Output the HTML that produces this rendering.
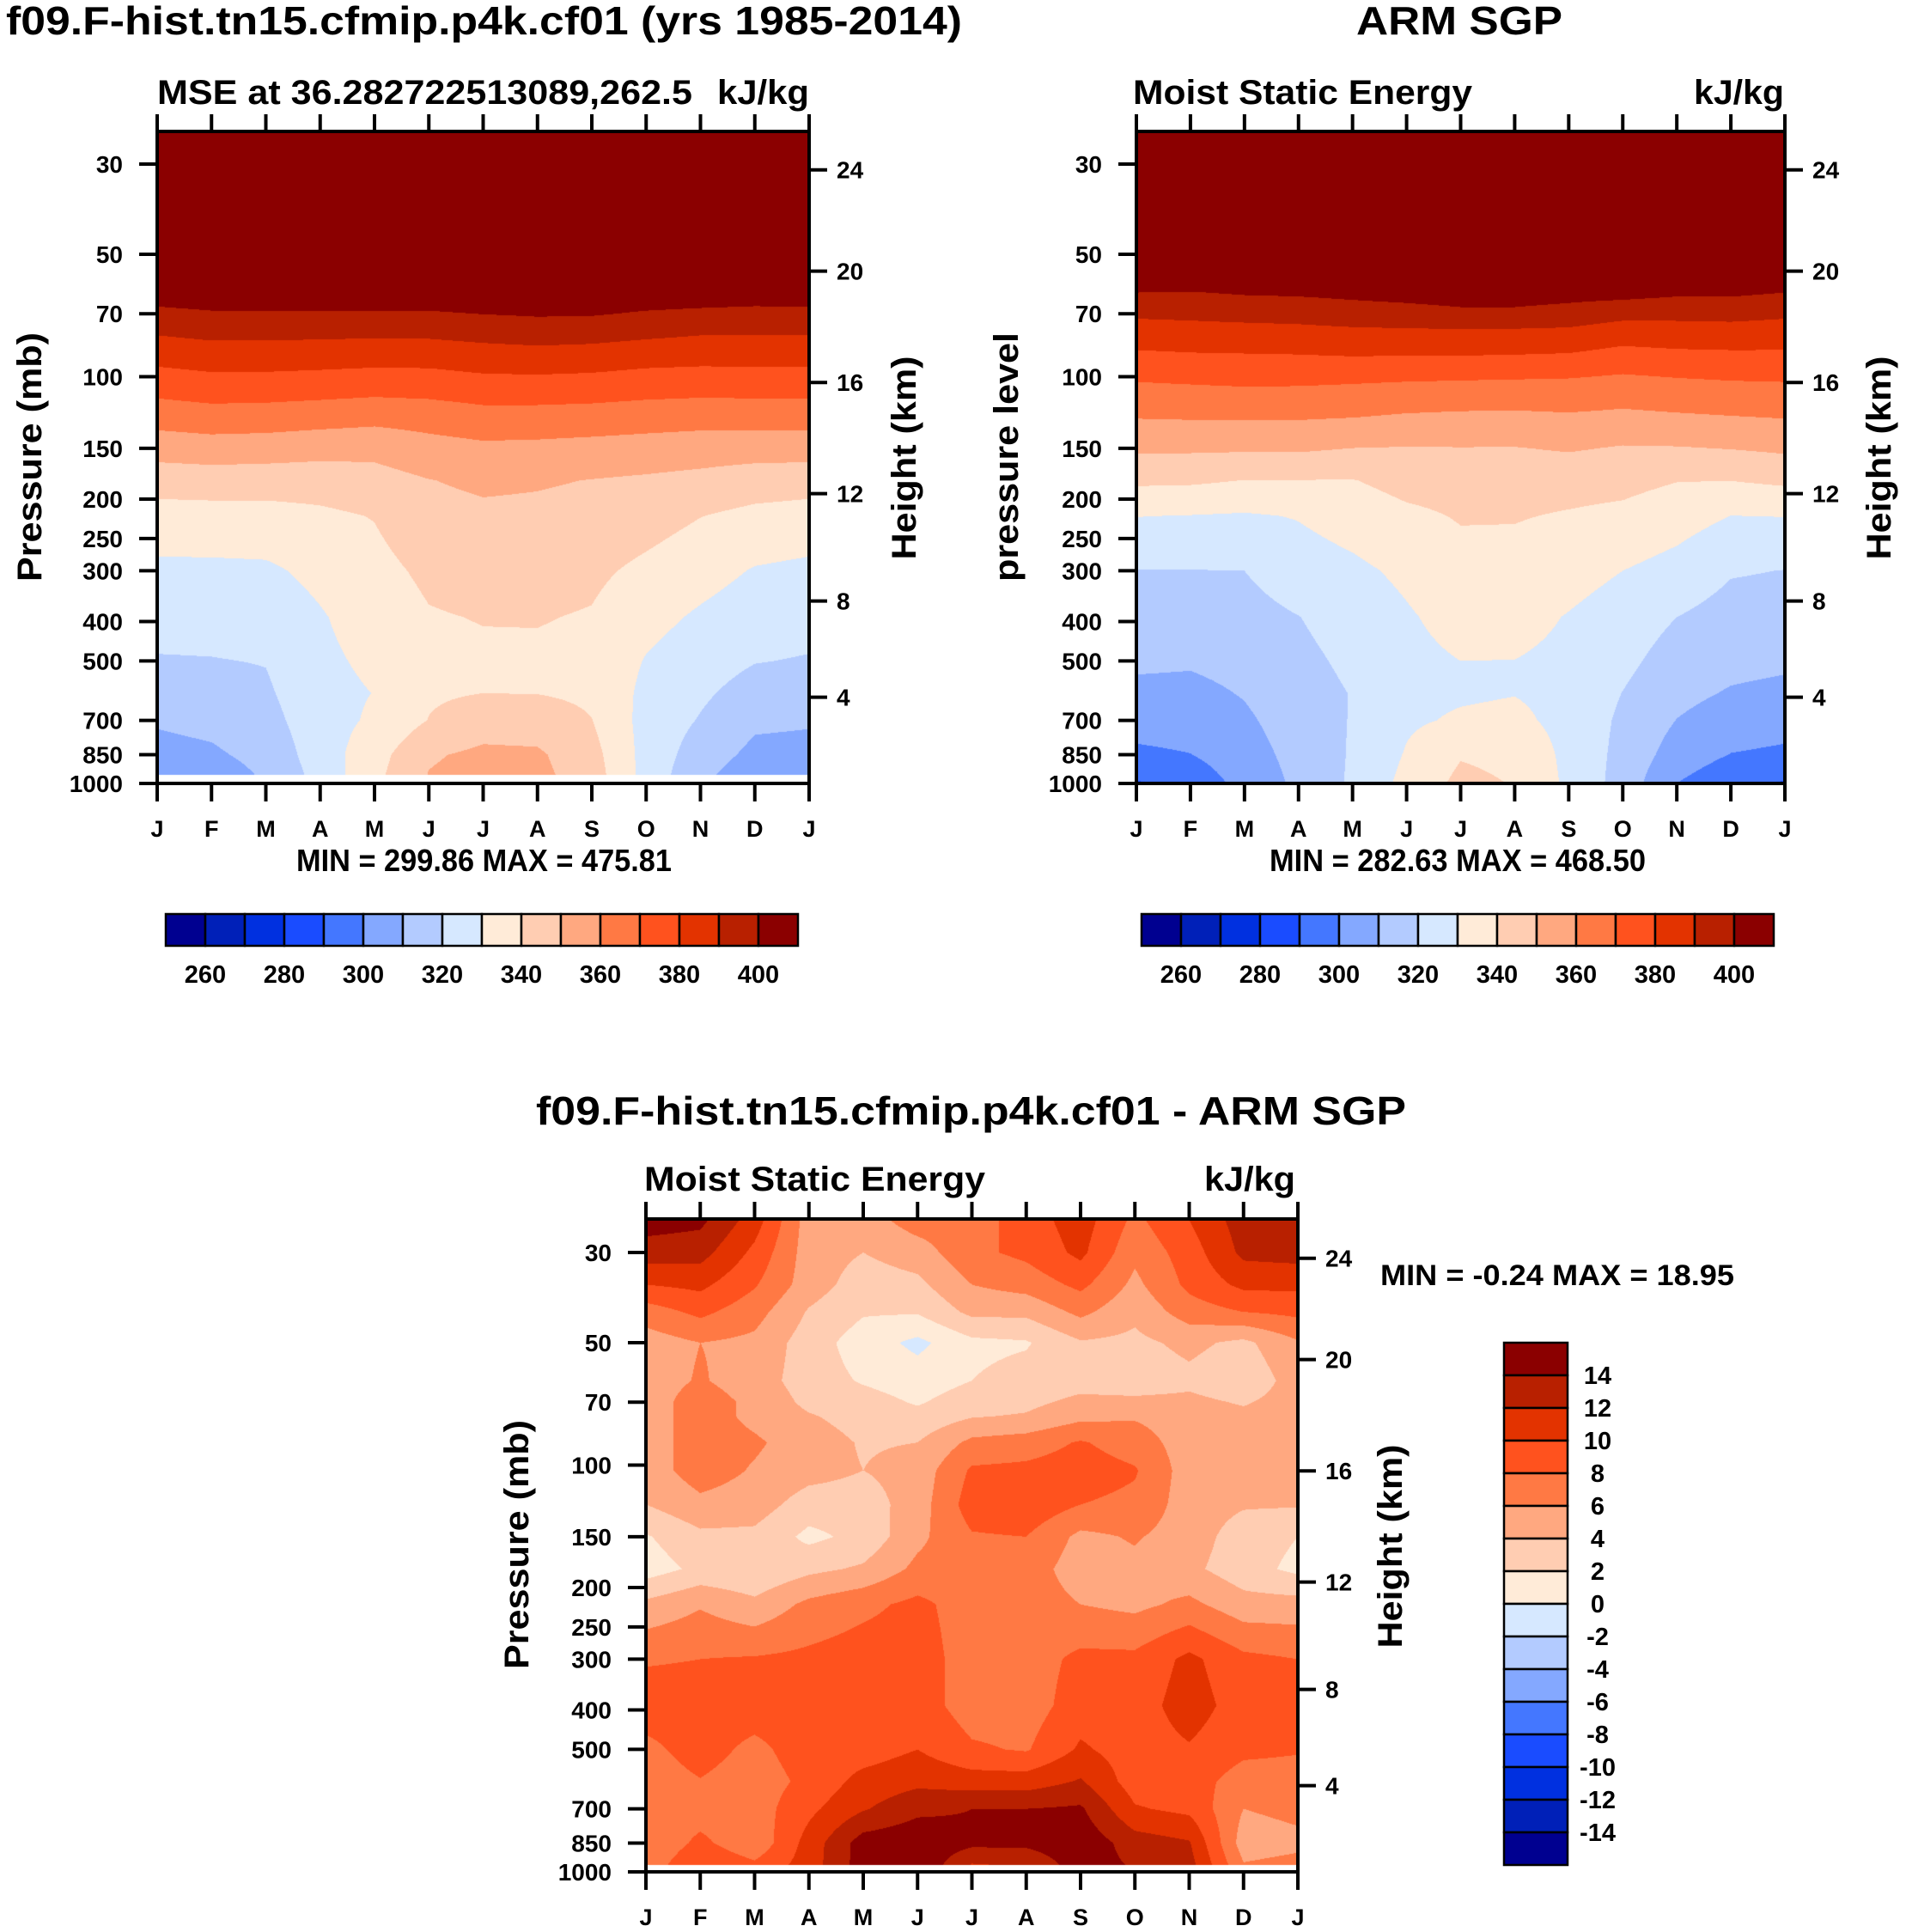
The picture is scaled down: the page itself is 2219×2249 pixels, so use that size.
<!DOCTYPE html>
<html><head><meta charset="utf-8">
<style>
html,body{margin:0;padding:0;background:#fff;}
#wrap{position:relative;width:2219px;height:2249px;overflow:hidden;background:#fff;}
canvas{position:absolute;}
svg{position:absolute;left:0;top:0;}
text{font-family:"Liberation Sans",Arial,sans-serif;font-weight:bold;fill:#000;}
</style></head>
<body>
<div id="wrap">
<canvas id="c1"></canvas>
<canvas id="c2"></canvas>
<canvas id="c3"></canvas>
<svg id="ov" width="2219" height="2249" viewBox="0 0 2219 2249">
<text x="7" y="40" font-size="46" textLength="1113" lengthAdjust="spacingAndGlyphs">f09.F-hist.tn15.cfmip.p4k.cf01 (yrs 1985-2014)</text>
<text x="1579" y="40" font-size="46" textLength="240" lengthAdjust="spacingAndGlyphs">ARM SGP</text>
<text x="183" y="121" font-size="40" textLength="623" lengthAdjust="spacingAndGlyphs">MSE at 36.282722513089,262.5</text>
<text x="835" y="121" font-size="40" textLength="107" lengthAdjust="spacingAndGlyphs">kJ/kg</text>
<text x="1319" y="121" font-size="40" textLength="395" lengthAdjust="spacingAndGlyphs">Moist Static Energy</text>
<text x="1972" y="121" font-size="40" textLength="105" lengthAdjust="spacingAndGlyphs">kJ/kg</text>
<text x="345" y="1014" font-size="36" textLength="437" lengthAdjust="spacingAndGlyphs">MIN = 299.86 MAX = 475.81</text>
<text x="1478" y="1014" font-size="36" textLength="438" lengthAdjust="spacingAndGlyphs">MIN = 282.63 MAX = 468.50</text>
<text x="624" y="1309" font-size="46" textLength="1013" lengthAdjust="spacingAndGlyphs">f09.F-hist.tn15.cfmip.p4k.cf01 - ARM SGP</text>
<text x="750" y="1386" font-size="40" textLength="397" lengthAdjust="spacingAndGlyphs">Moist Static Energy</text>
<text x="1402" y="1386" font-size="40" textLength="106" lengthAdjust="spacingAndGlyphs">kJ/kg</text>
<text x="1607" y="1496" font-size="34" textLength="412" lengthAdjust="spacingAndGlyphs">MIN =  -0.24 MAX =  18.95</text>
<text x="34" y="546" font-size="40" text-anchor="middle" textLength="290" lengthAdjust="spacingAndGlyphs" transform="rotate(-90,34,532)">Pressure (mb)</text>
<text x="1052" y="547" font-size="40" text-anchor="middle" textLength="237" lengthAdjust="spacingAndGlyphs" transform="rotate(-90,1052,533)">Height (km)</text>
<text x="1171" y="546" font-size="40" text-anchor="middle" textLength="290" lengthAdjust="spacingAndGlyphs" transform="rotate(-90,1171,532)">pressure level</text>
<text x="2187" y="547" font-size="40" text-anchor="middle" textLength="237" lengthAdjust="spacingAndGlyphs" transform="rotate(-90,2187,533)">Height (km)</text>
<text x="601" y="1812" font-size="40" text-anchor="middle" textLength="290" lengthAdjust="spacingAndGlyphs" transform="rotate(-90,601,1798)">Pressure (mb)</text>
<text x="1618" y="1814" font-size="40" text-anchor="middle" textLength="237" lengthAdjust="spacingAndGlyphs" transform="rotate(-90,1618,1800)">Height (km)</text>
<g id="dyn"></g>
</svg>
</div>
<script>
const months=['J','F','M','A','M','J','J','A','S','O','N','D','J'];
const levels=[25,30,36,42,50,62,70,76,88,103,125,150,180,220,300,390,500,600,700,850,1000];
const modelMSE=[
[470,470,470,470,470,470,470,470,470,470,470,470,470],
[465,465,465,465,465,465,465,465,465,465,465,465,465],
[455,455,455,455,455,455,455,455,455,455,455,455,455],
[445,445,445,445,445,445,445,445,445,445,445,445,445],
[430,430,430,430,430,430,430,430,430,430,430,430,430],
[405,406,406,406,406,406,407,407.5,407,406,405.5,405,405],
[397.5,399,399,399.1,399,399,400.2,401,400.8,399,398,397.3,397.5],
[392.3,394,394,393.7,393.5,393.7,395,396.1,395.6,394,392.3,392,392.3],
[383.9,385.6,385.6,385.1,384.5,384.6,386.2,387,386.3,384.6,383.9,383.9,383.9],
[375.2,376.9,376.8,376.1,375.2,375.5,377.3,377.5,376.9,375.5,375,375.2,375.2],
[364.4,366,365.6,364.5,363.4,364.5,366.5,366.4,365.9,364.9,364.2,364.4,364.4],
[354.3,355.4,354.9,353.6,352.8,356.2,358,357.6,356.7,355.8,354.8,354.3,354.3],
[344.3,344.9,344.6,344.5,346.4,349.7,351.8,351,349.7,348.6,347.2,345,344.3],
[336,336.2,336.4,338.1,340.4,346.6,348,347.7,346.6,344.1,340.2,337.4,336],
[327.9,328,328.4,332.4,337.1,341.9,343.9,343.6,342,337.8,333.8,329.3,327.9],
[323.6,323.7,324.4,329.2,334.4,339.3,340.4,340.5,339.3,333.2,328.6,324.7,323.6],
[319.3,319.6,320.4,328,331.9,337.5,338.5,338.5,337.5,329.4,324.6,320.4,319.3],
[314.8,315.8,318.5,327,330.2,338.6,340,339.8,338.3,327.5,321.7,315.8,314.8],
[311,312.6,316.5,326,331.5,340.3,345.5,345,340.2,326.5,319.3,311.8,311],
[307,308.5,313,325,336,348.9,352,351.5,343.5,326.5,315,307.5,307],
[302.5,303.5,310.5,323,338,351,354,353,345.5,326.5,311,303,302.5]];
const obsMSE=[
[470,470,470,470,470,470,470,470,470,470,470,470,470],
[465,465,465,465,465,465,465,465,465,465,465,465,465],
[455,455,455,455,455,455,455,455,455,455,455,455,455],
[445,445,445,445,445,445,445,445,445,445,445,445,445],
[430,430,430,430,430,430,430,430,430,430,430,430,430],
[400.1,399.7,401,401.5,402.5,403.5,404.5,404.5,403.5,403.5,401.8,401.8,400.1],
[391.7,392.2,393.3,393.8,395.5,396.5,398,398,396.5,393.5,392.7,393,391.7],
[386.8,387.5,387.9,388.5,389.5,390,390.3,390.2,389.6,386.2,387.2,387.6,386.8],
[378.7,379.5,379.8,380.1,380.8,380.6,380.6,380.2,379.6,377.1,378.2,378.6,378.7],
[370,370.7,371.4,371.2,370.6,369.9,369.4,369,368.6,367.2,368.6,369.6,370],
[360.7,361.1,361.2,361.2,360.5,359.1,358.4,358.2,359,358,359,359.9,360.7],
[351.7,351.5,351.3,351.4,349.9,349.5,349.7,349.6,350.9,349.2,349.4,350.3,351.7],
[341.8,341.5,339.8,339.8,339.6,343.4,344,343.8,343.5,342.9,340.3,340.1,341.8],
[330.2,329.7,329,330.5,334,337.9,340.7,340.6,339.2,337.7,334.2,329.9,330.2],
[319.8,319.8,320,325.5,328,331.9,336.7,336.5,333.6,330,326.5,320.8,319.8],
[315.6,315.3,316.4,319.8,324.5,329,333.3,333,329.5,325.6,320,316.2,315.6],
[311.6,311.1,313,317.5,322,327.5,330,329.9,328,322.5,315.6,312.6,311.6],
[307.8,307.5,310.6,316,320.4,327.8,328.8,329.7,327.3,319.8,312.5,309.2,307.8],
[304,304.5,308.5,314.5,320.6,328.5,331.2,332.2,327,318.2,309.8,305.7,304],
[298.1,299.8,306,313,321,330.8,339.3,337.6,327.5,317,305.5,299.7,298.1],
[289,293,303.5,312,321.5,333,342.5,339.5,328,316,300,293,289]];
const diffMSE=[
[15,14.5,11,5,5,7,7,9,11,7.5,10,13,13.5],
[13,12.8,9.5,5,4,5,7.5,8.5,10.5,6.5,9,12.5,12.8],
[10,10.5,8.2,5,3,3.5,6,6.8,8.5,5.5,8.5,10.5,10.5],
[7,8.5,6.8,3.8,2.2,2.2,4.5,4.5,6.5,4.5,7,8,8.5],
[5,6,5.5,3,1,-0.5,1.5,1.8,3.8,3.5,4.5,3.5,5.8],
[5,6.2,5,3,1.8,1,2,2.8,3.2,2.8,3.5,2.5,5],
[5,7,5.5,3.5,2.8,1.8,3,3.5,4.5,4.5,4.5,3.8,5],
[5,7,5.5,4.2,3.2,2.6,3.9,4.2,5.5,5.8,5,4.5,5],
[5,7,6.3,5,3.8,4,6.5,7,8.2,7,5,5,5],
[5,7,5.8,4.8,4,4.8,8.3,8.5,9,8.2,5,5,5],
[4,5.5,5,3,3,5,9,9.5,8,7.5,5,4.2,4.2],
[1.8,3.5,3.5,1.5,2.6,5.5,7.8,8,5.5,6.2,5,3,2],
[1,2.5,2.2,3.5,4.3,6.5,7,7,5,5.5,4.5,2.8,1.5],
[4.5,5.8,4.5,6.5,7.5,8.5,7,7,6,5.5,6.5,4.8,4.8],
[7.8,8,8.2,8.5,9,9,7,7,8.5,8.5,10.5,8.5,8],
[9,9,9,9,9,9,7,7,9,9,11,9,9],
[7.5,8.8,7.5,9,9,10,8.3,7.8,10.3,9,9.8,8.5,8.2],
[7,7.9,7,8.5,10.7,11.5,11,11,12.2,9,9,7,7],
[7,7,7,9.5,11.8,13.5,14,14,14.3,10.2,9.5,6,6.5],
[6.2,8.5,6.5,10.8,15,15.5,14.5,14.5,15.5,13,12.2,5,5.5],
[7,10.2,9,11,15,16,11,11.5,15,14,13,6.5,7]];
const pTicks=[30,50,70,100,150,200,250,300,400,500,700,850,1000];
const hTickLabels=[24,20,16,12,8,4];
const hTickP=[31.0,55.0,103.3,193.9,356,614];
const cbLabelsAbs=[260,280,300,320,340,360,380,400];
const cbLabelsDiff=[14,12,10,8,6,4,2,0,-2,-4,-6,-8,-10,-12,-14];
const palette=['#000090','#0020b8','#0030e0','#1a4cff','#4477ff','#84a8ff','#b3cbff','#d6e8ff','#ffebd8','#ffcdb2','#ffa880','#ff7944','#ff521e','#e33300','#b82000','#8b0000'];

const K=205.6;
const panels=[
 {id:'c1',name:'model',data:modelMSE,left:183,right:942,top:153,y30:191,pFill:953,base:260,step:10},
 {id:'c2',name:'obs',data:obsMSE,left:1323,right:2078,top:153,y30:191,pFill:1000,base:260,step:10},
 {id:'c3',name:'diff',data:diffMSE,left:752,right:1511,top:1419,y30:1458,pFill:962,base:-14,step:2}
];
function yOf(P,p){return P.y30+K*Math.log(p/30);}
function pOf(P,y){return 30*Math.exp((y-P.y30)/K);}
function xOf(P,m){return P.left+(P.right-P.left)*m/12;}
function hexRGB(h){return [parseInt(h.substr(1,2),16),parseInt(h.substr(3,2),16),parseInt(h.substr(5,2),16)];}
const pal=palette.map(hexRGB);
const lnL=levels.map(Math.log);

panels.forEach(P=>{
 const cv=document.getElementById(P.id);
 const W=P.right-P.left, bottom=yOf(P,1000), H=Math.round(bottom-P.top);
 cv.width=W;cv.height=H;cv.style.left=P.left+'px';cv.style.top=P.top+'px';
 const ctx=cv.getContext('2d');const img=ctx.createImageData(W,H);const d=img.data;
 for(let py=0;py<H;py++){
  const p=pOf(P,P.top+py+0.5);
  const lp=Math.log(p);
  let i=0;while(i<levels.length-2&&lp>lnL[i+1])i++;
  let t=(lp-lnL[i])/(lnL[i+1]-lnL[i]);t=Math.max(0,Math.min(1,t));
  const r0=P.data[i],r1=P.data[i+1];
  for(let px=0;px<W;px++){
   const o=(py*W+px)*4;
   if(p>P.pFill){d[o]=255;d[o+1]=255;d[o+2]=255;d[o+3]=255;continue;}
   const m=(px+0.5)/W*12;let j=Math.min(11,Math.floor(m));const s=m-j;
   const v=(1-t)*((1-s)*r0[j]+s*r0[j+1])+t*((1-s)*r1[j]+s*r1[j+1]);
   let k=Math.floor((v-P.base)/P.step)+1;k=Math.max(0,Math.min(15,k));
   const c=pal[k];d[o]=c[0];d[o+1]=c[1];d[o+2]=c[2];d[o+3]=255;
  }
 }
 ctx.putImageData(img,0,0);
});

const NS='http://www.w3.org/2000/svg';
const g=document.getElementById('dyn');
function mk(tag,attrs,parent){const e=document.createElementNS(NS,tag);for(const a in attrs)e.setAttribute(a,attrs[a]);(parent||g).appendChild(e);return e;}

panels.forEach(P=>{
 const bottom=yOf(P,1000);
 const grp=mk('g',{});
 
 
 const fr=mk('rect',{x:P.left,y:P.top,width:P.right-P.left,height:bottom-P.top,fill:'none',stroke:'#000','stroke-width':4},grp);
 
 
 months.forEach((mo,m)=>{
  const x=xOf(P,m);
  const t1=mk('line',{x1:x,x2:x,y1:P.top,y2:P.top-20,stroke:'#000','stroke-width':4},grp);
  
  
  const t2=mk('line',{x1:x,x2:x,y1:bottom,y2:bottom+21,stroke:'#000','stroke-width':4},grp);
  
  
  const tl=mk('text',{x:x,y:bottom+62,'font-size':27,'text-anchor':'middle'},grp);
  tl.textContent=mo;
  
  
 });
 pTicks.forEach(p=>{
  const y=yOf(P,p);
  const t=mk('line',{x1:P.left,x2:P.left-21,y1:y,y2:y,stroke:'#000','stroke-width':4},grp);
  
  
  const tl=mk('text',{x:P.left-40,y:y+10,'font-size':28,'text-anchor':'end'},grp);
  tl.textContent=p;
  
  
 });
 hTickP.forEach((p,i)=>{
  const y=yOf(P,p);
  const t=mk('line',{x1:P.right,x2:P.right+21,y1:y,y2:y,stroke:'#000','stroke-width':4},grp);
  
  
  const tl=mk('text',{x:P.right+32,y:y+10,'font-size':28},grp);
  tl.textContent=hTickLabels[i];
  
  
 });
});

[[193,'model'],[1329,'obs']].forEach(([x0,nm])=>{
 const bw=46,y0=1064,bh=37;
 const cb=mk('g',{});
 
 
 palette.forEach((c,i)=>{
  const r=mk('rect',{x:x0+i*bw,y:y0,width:bw,height:bh,fill:c,stroke:'#000','stroke-width':2.5},cb);
  
  
 });
 cbLabelsAbs.forEach((v,i)=>{
  const t=mk('text',{x:x0+(1+2*i)*bw,y:1144,'font-size':29,'text-anchor':'middle'},cb);
  t.textContent=v;
  
  
 });
});
{
 const x0=1751,y0=1563,bw=74,bh=38;
 const cb=mk('g',{});
 
 
 for(let i=0;i<16;i++){
  const r=mk('rect',{x:x0,y:y0+i*bh,width:bw,height:bh,fill:palette[15-i],stroke:'#000','stroke-width':2.5},cb);
  
  
 }
 cbLabelsDiff.forEach((v,i)=>{
  const t=mk('text',{x:1860,y:y0+(i+1)*bh+10,'font-size':29,'text-anchor':'middle'},cb);
  t.textContent=v;
  
  
 });
}
</script>
</body></html>
